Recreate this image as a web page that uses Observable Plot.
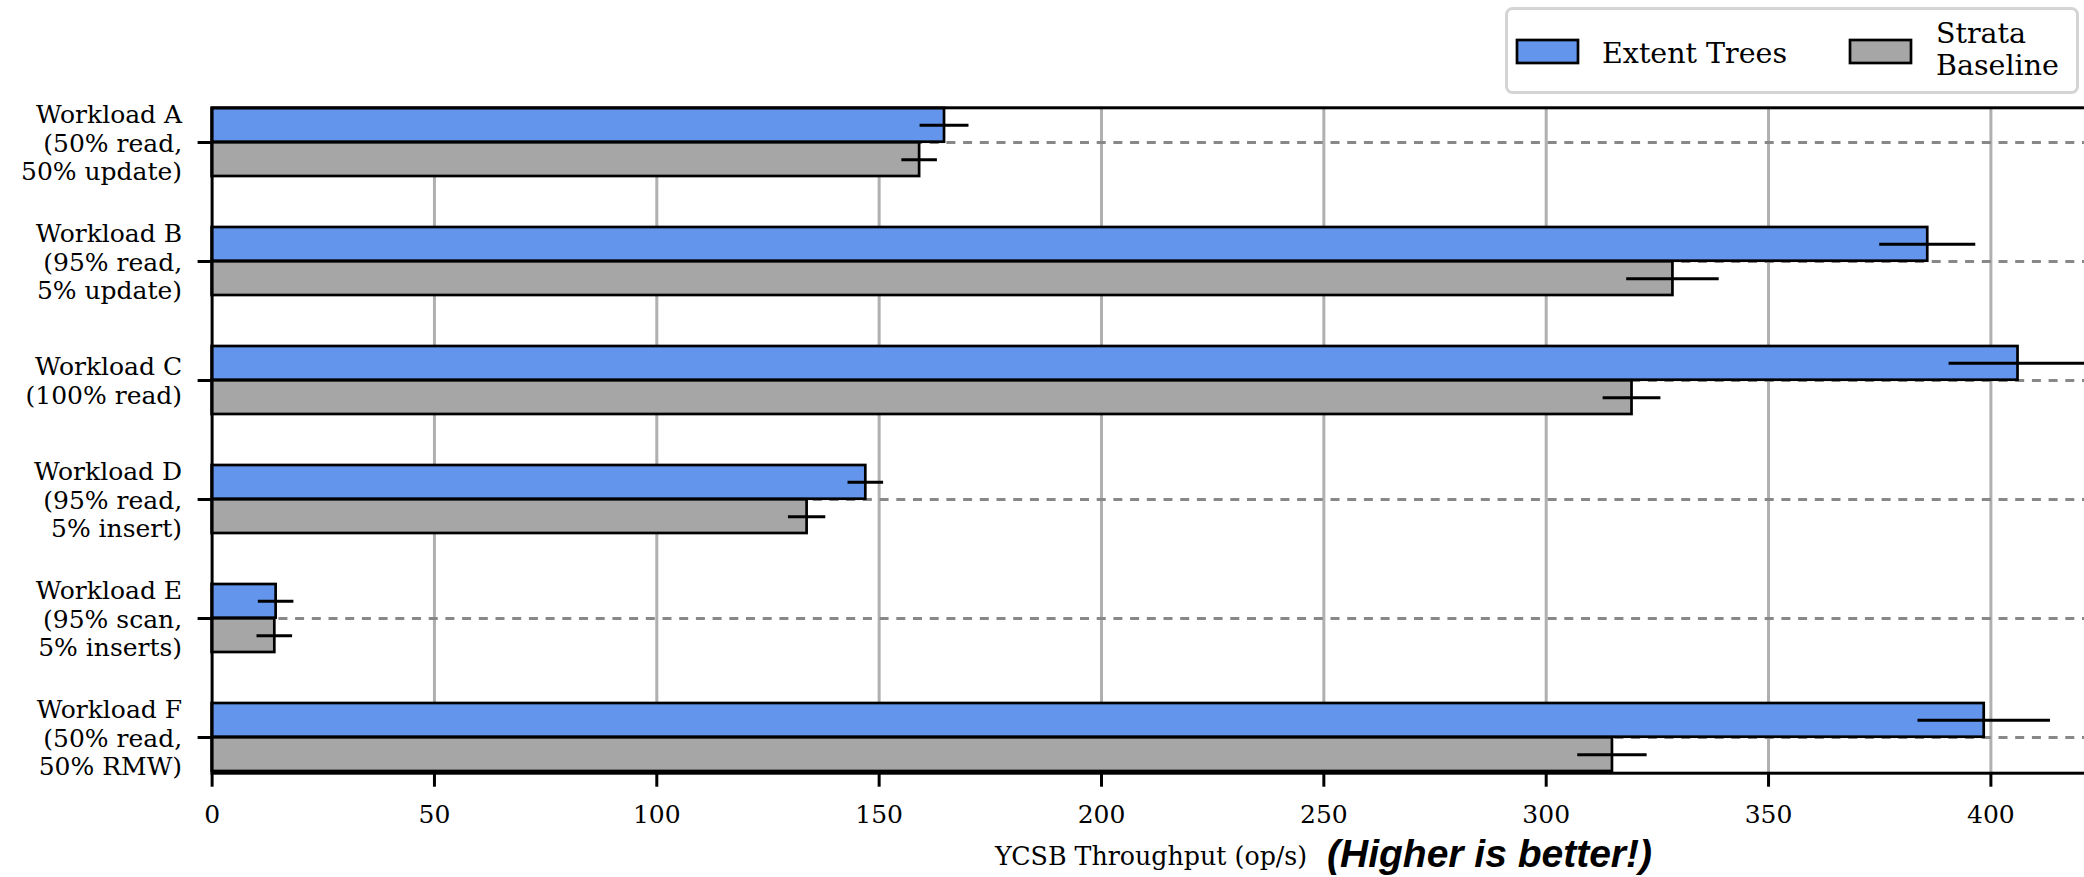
<!DOCTYPE html>
<html>
<head>
<meta charset="utf-8">
<script src="https://cdn.jsdelivr.net/npm/d3@7"></script>
<script src="https://cdn.jsdelivr.net/npm/@observablehq/plot@0.6"></script>
<style>
  html, body { margin: 0; padding: 0; background: white; }
  #wrap { position: relative; width: 2084px; height: 877px; overflow: hidden; }
  #overlay { position: absolute; left: 0; top: 0; pointer-events: none; }
</style>
</head>
<body>
<div id="wrap"></div>
<script>
// ---- data ----
const workloads = [
  "Workload A\n(50% read,\n50% update)",
  "Workload B\n(95% read,\n5% update)",
  "Workload C\n(100% read)",
  "Workload D\n(95% read,\n5% insert)",
  "Workload E\n(95% scan,\n5% inserts)",
  "Workload F\n(50% read,\n50% RMW)"
];
const seriesNames = ["Extent Trees", "Strata\nBaseline"];
const extentTrees = [164.7, 385.8, 406.1, 147.0, 14.4, 398.5];
const extentErr   = [5.5, 10.8, 15.5, 4.0, 4.0, 14.9];
const strataBaseline = [159.1, 328.5, 319.3, 133.8, 14.1, 314.9];
const strataErr      = [4.0, 10.4, 6.5, 4.2, 4.0, 7.8];
const xTicks = [0, 50, 100, 150, 200, 250, 300, 350, 400];
const xLabel = "YCSB Throughput (op/s)";
const note = "(Higher is better!)";
const colors = ["#6495ed", "#a6a6a6"];

// ---- layout ----
const W = 2084, H = 877;
const mTop = 107.3, mBottom = 104.3, mLeft = 211.6, mRight = 0;
const padInner = 0.4255;
const step = (H - mTop - mBottom) / (workloads.length - padInner);
const bw = step * (1 - padInner);
const half = bw / 2;

const rows = [];
workloads.forEach((w, i) => {
  rows.push({workload: w, series: 0, value: extentTrees[i], err: extentErr[i]});
  rows.push({workload: w, series: 1, value: strataBaseline[i], err: strataErr[i]});
});
const blue = rows.filter(d => d.series === 0);
const gray = rows.filter(d => d.series === 1);

const chart = Plot.plot({
  width: W,
  height: H,
  marginTop: mTop,
  marginBottom: mBottom,
  marginLeft: mLeft,
  marginRight: mRight,
  style: {fontFamily: "'DejaVu Serif', serif", fontSize: "25px", background: "white", color: "black"},
  x: {domain: [0, 421.05], label: null},
  y: {domain: workloads, paddingInner: padInner, paddingOuter: 0, label: null},
  marks: [
    Plot.gridX(xTicks.slice(1), {stroke: "#b0b0b0", strokeOpacity: 1, strokeWidth: 3}),
    Plot.ruleY(workloads, {y: d => d, stroke: "#888888", strokeWidth: 3, strokeDasharray: "9,7.7"}),
    Plot.barX(blue, {y: "workload", x: "value", fill: colors[0], stroke: "black", strokeWidth: 2.7, insetBottom: half}),
    Plot.barX(gray, {y: "workload", x: "value", fill: colors[1], stroke: "black", strokeWidth: 2.7, insetTop: half}),
    Plot.ruleY(blue, {y: "workload", x1: d => d.value - d.err, x2: d => d.value + d.err, stroke: "black", strokeWidth: 3, dy: -half / 2}),
    Plot.ruleY(gray, {y: "workload", x1: d => d.value - d.err, x2: d => d.value + d.err, stroke: "black", strokeWidth: 3, dy: half / 2}),
    Plot.frame({stroke: "black", strokeWidth: 3, insetRight: -20}),
    Plot.axisX({ticks: xTicks, tickSize: 14, tickPadding: 18, strokeWidth: 3, label: null, fontSize: 25}),
    Plot.axisY({tickSize: 14, tickPadding: 16, strokeWidth: 3, label: null, lineHeight: 1.15, fontSize: 25, textAnchor: "end"})
  ]
});

const wrap = document.getElementById("wrap");
wrap.appendChild(chart);

// ---- overlay: legend and axis label ----
const ns = "http://www.w3.org/2000/svg";
const ov = document.createElementNS(ns, "svg");
ov.setAttribute("id", "overlay");
ov.setAttribute("width", W);
ov.setAttribute("height", H);
function el(tag, attrs, text) {
  const e = document.createElementNS(ns, tag);
  for (const k in attrs) e.setAttribute(k, attrs[k]);
  if (text != null) e.textContent = text;
  ov.appendChild(e);
  return e;
}
// legend box
el("rect", {x: 1506.5, y: 8.5, width: 571, height: 84, rx: 6, ry: 6, fill: "white", "fill-opacity": 0.9, stroke: "#d4d4d4", "stroke-width": 3});
// swatches
el("rect", {x: 1517, y: 40, width: 61, height: 23, fill: colors[0], stroke: "black", "stroke-width": 2.7});
el("rect", {x: 1850, y: 40, width: 61, height: 23, fill: colors[1], stroke: "black", "stroke-width": 2.7});
el("text", {x: 1602, y: 63, "font-family": "DejaVu Serif", "font-size": 28.5, fill: "black"}, seriesNames[0]);
const t2 = el("text", {x: 1936, y: 43, "font-family": "DejaVu Serif", "font-size": 28.5, fill: "black"});
seriesNames[1].split("\n").forEach((line, i) => {
  const ts = document.createElementNS(ns, "tspan");
  ts.setAttribute("x", 1936);
  if (i > 0) ts.setAttribute("dy", 32);
  ts.textContent = line;
  t2.appendChild(ts);
});
// x label
el("text", {x: 995, y: 865, "font-family": "DejaVu Serif", "font-size": 25.3, fill: "black"}, xLabel);
el("text", {x: 1327, y: 867, "font-family": "Liberation Sans, Arial, sans-serif", "font-size": 39, "font-weight": "bold", "font-style": "italic", fill: "black"}, note);
wrap.appendChild(ov);
</script>
</body>
</html>
